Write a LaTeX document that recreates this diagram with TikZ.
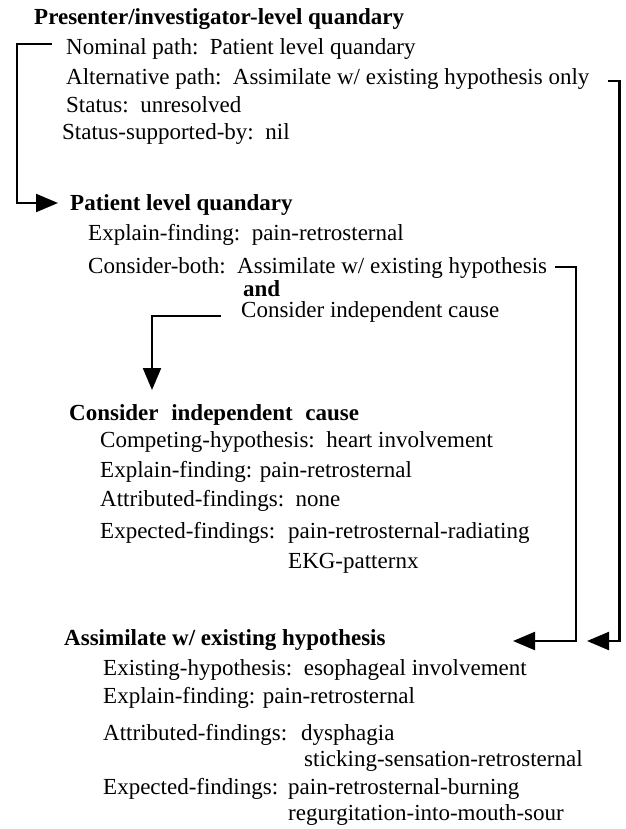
\documentclass[tikz,border=0pt]{standalone}
\usepackage{fontspec}
\setmainfont{Liberation Serif}
\usetikzlibrary{
	arrows.meta
}
\tikzset{
	every node/.style={
		inner sep=0pt,
		anchor=base west,
		font=\fontsize{23}{27}\selectfont
	},
	heading/.style={
		font=\fontsize{23}{27}\selectfont\bfseries
	},
	link/.style={
		line width=2.2pt,
		-{Triangle[length=22pt,width=18pt]}
	}
}

\begin{document}
\begin{tikzpicture}[x=1pt,y=-1pt]
		\useasboundingbox (0,0) rectangle (625,829);

		\node[heading] (pres) at (34,25)  {Presenter/investigator-level quandary};
		\node          (nom)  at (66,55)  {Nominal path:\ \ Patient level quandary};
		\node          (alt)  at (66,85)  {Alternative path:\ \ Assimilate w/ existing hypothesis only};
		\node          (stat) at (66,113) {Status:\ \ unresolved};
		\node          (sup)  at (62,140) {Status-supported-by:\ \ nil};

		\node[heading] (pat)  at (70,210) {Patient level quandary};
		\node          (pexp) at (88,240) {Explain-finding:\ \ pain-retrosternal};
		\node          (both) at (88,273) {Consider-both:\ \ Assimilate w/ existing hypothesis};
		\node[heading] (and)  at (243,296) {and};
		\node          (cic)  at (241,317) {Consider independent cause};

		\node[heading] (ich)   at (69,420)  {Consider\hspace{0.55em}independent\hspace{0.55em}cause};
		\node          (comp)  at (100,447) {Competing-hypothesis:\ \ heart involvement};
		\node          (iexp)  at (100,477) {Explain-finding: pain-retrosternal};
		\node          (iatt)  at (100,506) {Attributed-findings:\ \ none};
		\node          (iexf)  at (100,538) {Expected-findings:};
		\node          (iexf1) at (288,538) {pain-retrosternal-radiating};
		\node          (iexf2) at (288,568) {EKG-patternx};

		\node[heading] (ash)   at (64,645)  {Assimilate w/ existing hypothesis};
		\node          (aexh)  at (103,675) {Existing-hypothesis:\ \ esophageal involvement};
		\node          (aexp)  at (103,703) {Explain-finding: pain-retrosternal};
		\node          (aatt)  at (103,740) {Attributed-findings:};
		\node          (aatt1) at (301,740) {dysphagia};
		\node          (aatt2) at (304,766) {sticking-sensation-retrosternal};
		\node          (aexf)  at (103,794) {Expected-findings:};
		\node          (aexf1) at (288,794) {pain-retrosternal-burning};
		\node          (aexf2) at (288,820) {regurgitation-into-mouth-sour};

		\draw[link] ([xshift=-14pt,yshift=11pt]nom.base west) -- ++(-35,0)
			|- ([xshift=-12pt,yshift=7pt]pat.base west);
		\draw[link] ([xshift=18pt,yshift=4pt]alt.base east) -- ++(12,0)
			|- ([xshift=523pt,yshift=4pt]ash.base west);
		\draw[link] ([xshift=8pt,yshift=6pt]both.base east) -- ++(21,0)
			|- ([xshift=449pt,yshift=4pt]ash.base west);
		\draw[link] ([xshift=-20pt,yshift=1pt]cic.base west)
			-| ([xshift=83pt,yshift=30pt]ich.base west);
	\end{tikzpicture}
\end{document}
